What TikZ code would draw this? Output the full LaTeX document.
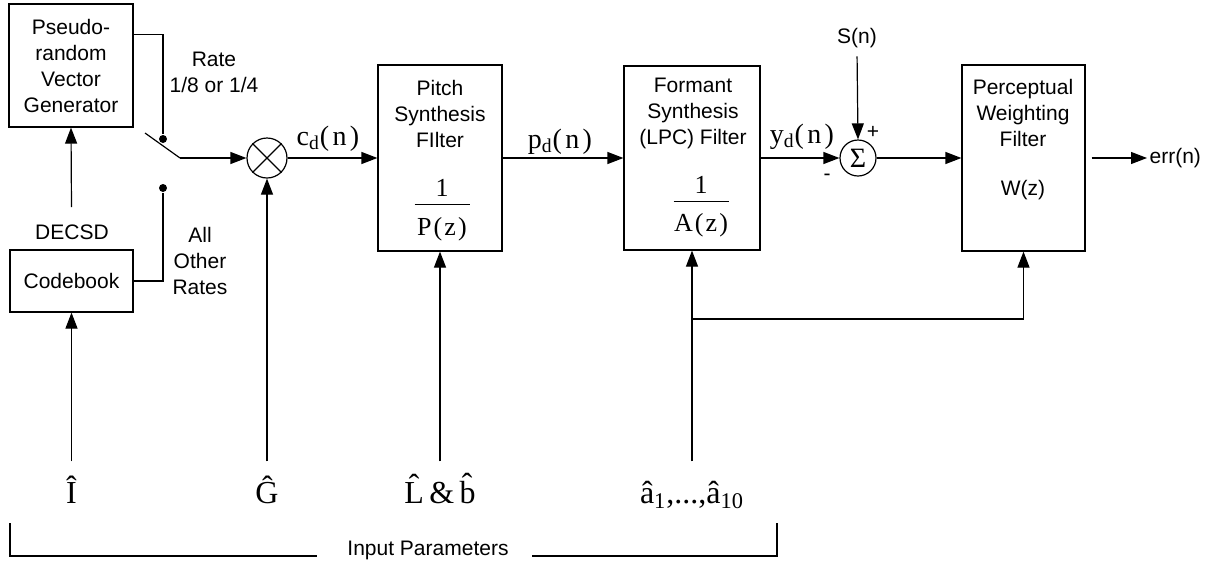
\documentclass[tikz,border=0pt]{standalone}
\usepackage{fontspec}
\setmainfont{Liberation Sans}
\newfontfamily\tnr{Liberation Serif}
\usepackage{tikz}
\usetikzlibrary{arrows.meta,calc}
% transfer function written as a stacked ratio
\newcommand{\filtfrac}[2]{{\tnr\fontsize{13}{14}\selectfont\addfontfeature{LetterSpace=8}%
  \begin{tabular}{@{}c@{}}#1\\[-9.75pt]\rule{27.5pt}{0.6pt}\\[1pt]#2\end{tabular}}}

\begin{document}
\begin{tikzpicture}[
  x=0.5pt,y=-0.5pt, line width=0.6pt,
  font=\fontsize{10.5}{13}\selectfont,
  blk/.style={draw, inner sep=0pt, align=center},
  lbl/.style={inner sep=1pt, align=center},
  sig/.style={inner sep=1pt, anchor=base, font=\tnr\fontsize{14}{15}\selectfont\addfontfeature{LetterSpace=12}},
  inp/.style={anchor=base, text height=17pt, inner sep=3.5pt, font=\tnr\fontsize{16}{18}\selectfont},
  arr/.style={-{Triangle[length=8pt,width=6pt]}},
  dot/.style={circle, fill, inner sep=0pt, minimum size=4pt}]
\useasboundingbox (0,0) rectangle (1222,563);
% excitation sources and rate switch
\node[blk, minimum width=62pt, minimum height=61.5pt] (prv) at (71,65.5) {Pseudo-\\random\\Vector\\Generator};
\node[blk, minimum width=61.5pt, minimum height=31pt] (cb) at (71.5,281) {Codebook};
\node[lbl] (decsd) at (72,232) {DECSD};
\coordinate (dtop) at (71.5,207);
\node[dot] (d1) at (163,139) {};
\node[dot] (d2) at (163,188) {};
\coordinate (sw0) at (145,133);
\coordinate (sw1) at (180,158);
\node[lbl] (rate) at (214,72) {Rate\\1/8 or 1/4};
\node[lbl] (other) at (200,261) {All\\Other\\Rates};
\node[circle, draw, minimum size=20pt, inner sep=0pt] (mul) at (267,158) {};
\draw (mul.45) -- (mul.225) (mul.135) -- (mul.315);
% synthesis filters
\node[blk, minimum width=62pt, minimum height=93pt] (pitch) at (440,158) {};
\node[lbl] (pitchtxt) at (440,113.5) {Pitch\\Synthesis\\FIlter};
\node (pitchtf) at (442,210.5) {\filtfrac{1}{P(z)}};
\node[blk, minimum width=68pt, minimum height=92pt] (fsyn) at (692,158) {};
\node[lbl] (fsyntxt) at (693,113.5) {Formant\\Synthesis\\(LPC) Filter};
\node (fsyntf) at (701,207) {\filtfrac{1}{A(z)}};
\node[circle, draw, minimum size=18pt, inner sep=0pt, font=\tnr\fontsize{14}{14}\selectfont] (sum) at (858,158) {Σ};
\node[lbl] (sn) at (857,38) {S(n)};
\node[lbl] (plus) at (873,132) {+};
\node[lbl] (minus) at (827,177) {-};
\node[blk, minimum width=61.5pt, minimum height=93pt] (pwf) at (1023.5,158) {};
\node[lbl] (pwftxt) at (1023,112.5) {Perceptual\\Weighting\\Filter};
\node[lbl] (wz) at (1023,190) {W(z)};
\node[lbl, anchor=west] (err) at (1147,158) {err(n)};
% signal names on the forward path
\node[sig] (cd) at (328,145) {c\textsubscript{d}(n)};
\node[sig] (pd) at (560,148) {p\textsubscript{d}(n)};
\node[sig] (yd) at (802,143) {y\textsubscript{d}(n)};
% decoded parameters
\node[inp] (ihat) at (71.5,503) {\^I};
\node[inp] (ghat) at (267,503) {\^G};
\node[inp] (lbhat) at (440,503) {\^L\,\&\,\^b};
\node[inp] (ahat) at (692,503) {â\textsubscript{1},...,â\textsubscript{10}};
\coordinate (tap) at (692,319);
\node[inner sep=0pt, anchor=base] (ipl) at (428,555) {Input Parameters};
\coordinate (brl) at (10,523);
\coordinate (brr) at (777,523);
% connections
\draw[arr] (dtop) -- (prv.south);
\draw ($(prv.north east)!0.25!(prv.south east)$) -| (d1);
\draw (cb.east) -| (d2);
\draw (sw0) -- (sw1);
\draw[arr] (sw1) -- (mul.west);
\draw[arr] (mul.east) -- (pitch.west);
\draw[arr] (pitch.east) -- (fsyn.west);
\draw[arr] (fsyn.east) -- (sum.west);
\draw[arr] (sum.east) -- (pwf.west);
\draw[arr] ([xshift=3pt]pwf.east) -- (err.west);
\draw[arr, shorten <=3pt] (sn.south) -- (sum.north);
\draw[arr] (ihat.north) -- (cb.south);
\draw[arr] (ghat.north) -- (mul.south);
\draw[arr] (lbhat.north) -- (pitch.south);
\draw[arr] (ahat.north) -- (fsyn.south);
\draw[arr] (tap) -| (pwf.south);
\draw (brl) |- ([xshift=-15pt,yshift=-0.5pt]ipl.base west);
\draw (brr) |- ([xshift=11.5pt,yshift=-0.5pt]ipl.base east);
\end{tikzpicture}
\end{document}
